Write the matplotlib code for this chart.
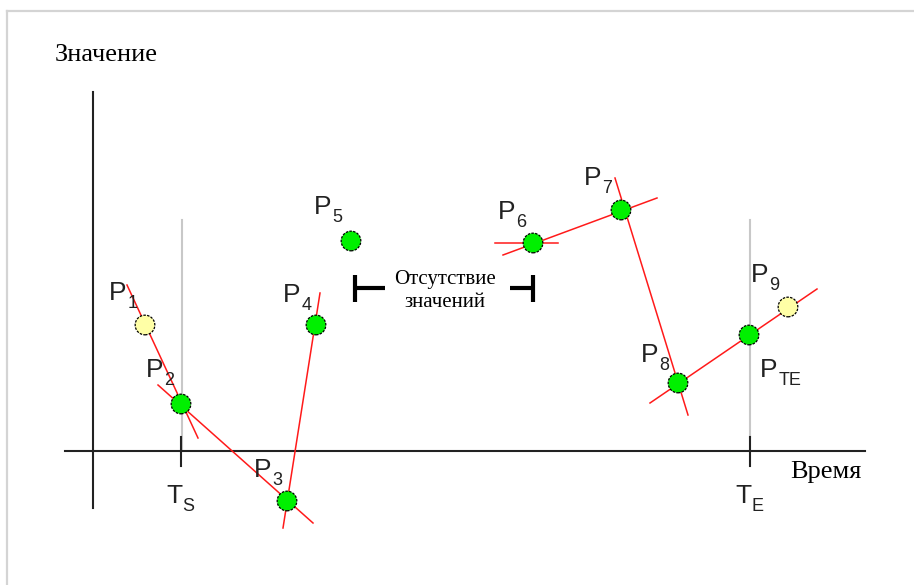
import matplotlib.pyplot as plt
from matplotlib.lines import Line2D

# points (time, value)
point_names = ["1", "2", "3", "4", "5", "6", "7", "8", "TE", "9"]
point_t = [5.2, 8.8, 19.4, 22.3, 25.8, 44.0, 52.8, 58.5, 65.6, 69.5]
point_v = [12.6, 4.7, -5.0, 12.6, 21.0, 20.8, 24.1, 6.8, 11.6, 14.4]
point_kind = ["out", "in", "in", "in", "in", "in", "in", "in", "in", "out"]

# label positions (centre of the "P")
label_t = [2.5, 6.2, 17.0, 19.9, 23.0, 41.4, 50.0, 55.7, 67.6, 66.7]
label_v = [15.8, 8.1, -1.9, 15.6, 24.4, 23.9, 27.3, 9.6, 8.1, 17.6]

# red tangent segments: (t0, v0, t1, v1)
seg_t0 = [3.4, 6.5, 19.0, 40.2, 41.0, 52.2, 55.7]
seg_v0 = [16.6, 6.6, -7.7, 20.8, 19.6, 27.3, 4.8]
seg_t1 = [10.5, 22.0, 22.7, 46.5, 56.4, 59.5, 72.4]
seg_v1 = [1.3, -7.2, 15.8, 20.8, 25.3, 3.6, 16.2]

t_start, t_end = 8.8, 65.7
gap_start, gap_end, gap_level = 26.2, 44.0, 16.3

fig = plt.figure(figsize=(9.14, 5.85), dpi=100)
ax = fig.add_axes([0, 0, 1, 1])
ax.set_xlim(-9.3, 82.1)
ax.set_ylim(-13.4, 45.1)
ax.axis("off")

# thin frame on top / left
fig.add_artist(Line2D([0.0077, 1], [0.981, 0.981], color="#d4d4d4", lw=1.6))
fig.add_artist(Line2D([0.0077, 0.0077], [0, 0.981], color="#d4d4d4", lw=1.6))

# axes
ax.plot([-2.8, 77.2], [0, 0], color="#222222", lw=1.5)
ax.plot([0, 0], [-5.7, 35.9], color="#222222", lw=1.5)
for t in (t_start, t_end):
    ax.plot([t, t], [-1.5, 1.4], color="#222222", lw=1.5)
ax.plot([t_start + 0.1, t_start + 0.1], [0, 23.1], color="#c8c8c8", lw=1.5, zorder=1)
ax.plot([t_end, t_end], [1.4, 23.1], color="#c8c8c8", lw=1.5, zorder=1)

# tangents
for a, b, c, d in zip(seg_t0, seg_v0, seg_t1, seg_v1):
    ax.plot([a, c], [b, d], color="#ff1a1a", lw=1.1, zorder=2)

# points
colors = ["#00f000" if k == "in" else "#ffffa6" for k in point_kind]
ax.scatter(point_t, point_v, s=200, c=colors, edgecolors="black",
           linewidths=0.9, linestyle=(0, (2, 1)), zorder=3)

sans = "Liberation Sans"
serif = "Liberation Serif"


def sub_label(x, y, main, sub):
    t = ax.text(x, y, main, fontsize=19, ha="center", va="center",
                family=sans, color="#222222")
    ax.annotate(sub, xy=(1, 0), xycoords=t, xytext=(0.4, 1),
                textcoords="offset points", ha="left", va="center",
                fontsize=13, family=sans, color="#222222")


for name, lt, lv in zip(point_names, label_t, label_v):
    sub_label(lt, lv, "P", name)

sub_label(8.1, -4.5, "T", "S")
sub_label(65.0, -4.5, "T", "E")

ax.text(-3.8, 39.6, "Значение", fontsize=19, family=serif, ha="left", va="center")
ax.text(73.3, -2.1, "Время", fontsize=19, family=serif, ha="center", va="center")

# gap of values
ax.text((gap_start + gap_end) / 2 + 0.1, gap_level - 0.3, "Отсутствие\nзначений",
        fontsize=15, family=serif, ha="center", va="center", linespacing=1.3)
ax.plot([gap_start, gap_start + 3.0], [gap_level, gap_level], color="black", lw=3,
        solid_capstyle="butt")
ax.plot([gap_start, gap_start], [gap_level - 1.4, gap_level + 1.3], color="black", lw=3,
        solid_capstyle="butt")
ax.plot([gap_end - 2.3, gap_end], [gap_level, gap_level], color="black", lw=3,
        solid_capstyle="butt")
ax.plot([gap_end, gap_end], [gap_level - 1.4, gap_level + 1.3], color="black", lw=3,
        solid_capstyle="butt")

fig.savefig("out.png", dpi=100)
